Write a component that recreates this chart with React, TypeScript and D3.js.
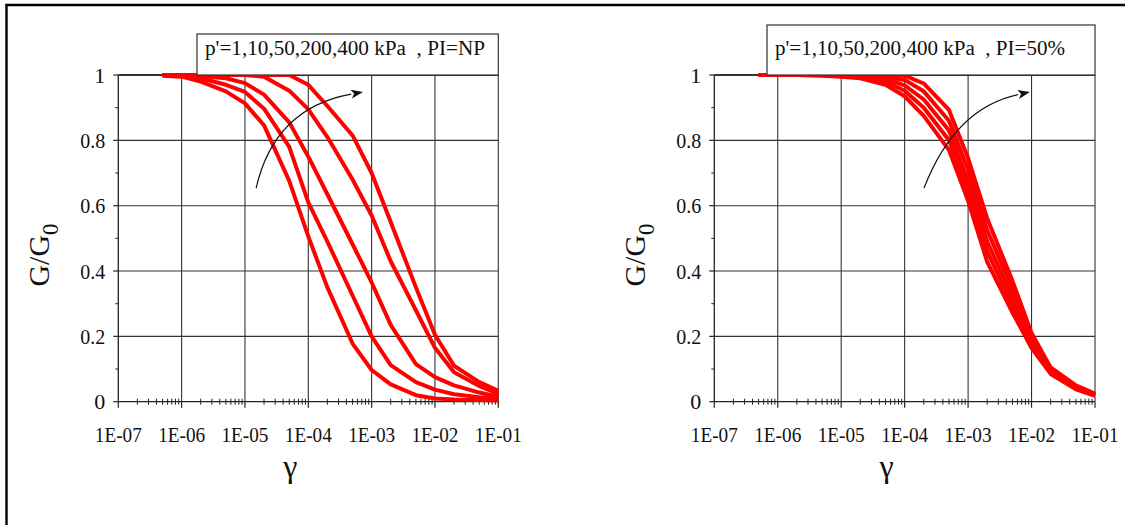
import React from 'react';
import * as d3 from 'd3';

// shear strain points (read at 1-2-5 steps)
const strain = [5e-7, 1e-6, 2e-6, 5e-6, 1e-5, 2e-5, 5e-5, 1e-4, 2e-4, 5e-4, 1e-3, 2e-3, 5e-3, 1e-2, 2e-2, 5e-2, 1e-1];

// PI = NP, p' = 1, 10, 50, 200, 400 kPa
const np1 = [0.998, 0.995, 0.98, 0.95, 0.913, 0.846, 0.676, 0.506, 0.35, 0.178, 0.097, 0.053, 0.02, 0.01, 0.007, 0.005, 0.004];
const np10 = [1, 0.998, 0.99, 0.97, 0.948, 0.897, 0.78, 0.61, 0.49, 0.325, 0.2, 0.112, 0.06, 0.037, 0.023, 0.014, 0.01];
const np50 = [1, 1, 0.997, 0.99, 0.975, 0.94, 0.855, 0.75, 0.635, 0.482, 0.365, 0.235, 0.115, 0.075, 0.05, 0.028, 0.015];
const np200 = [1, 1, 1, 1, 1, 0.995, 0.952, 0.895, 0.81, 0.68, 0.57, 0.43, 0.28, 0.165, 0.09, 0.048, 0.025];
const np400 = [1, 1, 1, 1, 1, 1, 1, 0.97, 0.905, 0.815, 0.7, 0.55, 0.35, 0.205, 0.11, 0.06, 0.033];

// PI = 50%
const pi1 = [1, 1, 1, 0.998, 0.995, 0.99, 0.97, 0.935, 0.875, 0.77, 0.615, 0.428, 0.273, 0.164, 0.085, 0.038, 0.018];
const pi10 = [1, 1, 1, 0.999, 0.997, 0.993, 0.98, 0.952, 0.9, 0.8, 0.645, 0.46, 0.295, 0.175, 0.09, 0.041, 0.02];
const pi50 = [1, 1, 1, 1, 0.998, 0.995, 0.988, 0.968, 0.925, 0.83, 0.675, 0.49, 0.32, 0.185, 0.095, 0.044, 0.021];
const pi200 = [1, 1, 1, 1, 0.999, 0.998, 0.994, 0.985, 0.95, 0.86, 0.71, 0.525, 0.345, 0.197, 0.1, 0.047, 0.023];
const pi400 = [1, 1, 1, 1, 1, 1, 0.998, 0.998, 0.974, 0.893, 0.745, 0.561, 0.37, 0.21, 0.105, 0.05, 0.025];

const xTickLabels = ['1E-07', '1E-06', '1E-05', '1E-04', '1E-03', '1E-02', '1E-01'];
const yTicks = [0, 0.2, 0.4, 0.6, 0.8, 1];
const yTickLabels = ['0', '0.2', '0.4', '0.6', '0.8', '1'];

// arrow annotation (strain, G/G0): start, control, end
const arrowNP = [[1.5e-5, 0.654], [2.93e-5, 0.899], [7.3e-4, 0.948]];
const arrowPI = [[2.02e-4, 0.654], [6.2e-4, 0.899], [9.4e-3, 0.948]];

const FONT = "'Liberation Serif', 'Times New Roman', serif";

const Panel = ({ x0, x1, series, legend, legendBox, legendWidth, arrow }) => {
  const x = d3.scaleLog().domain([1e-7, 1e-1]).range([x0, x1]);
  const y = d3.scaleLinear().domain([0, 1]).range([401.7, 75]);
  const line = d3.line<number>()
    .x((_, i) => x(strain[i]))
    .y(d => y(d));

  const decades = d3.range(-7, 0).map(p => Math.pow(10, p));
  const minors = [];
  decades.slice(0, 6).forEach(d => {
    for (let k = 2; k <= 9; k++) minors.push(k * d);
  });
  const yMinor = [0.1, 0.3, 0.5, 0.7, 0.9];

  const [a0, ac, a1] = arrow.map(([s, g]) => [x(s), y(g)]);
  const ang = Math.atan2(a1[1] - ac[1], a1[0] - ac[0]);
  const head = 12;
  const tip = a1;
  const back = [tip[0] - head * Math.cos(ang), tip[1] - head * Math.sin(ang)];
  const perp = [-Math.sin(ang) * 4.5, Math.cos(ang) * 4.5];

  const cx = (x0 + x1) / 2;
  const txt = { fontFamily: FONT };

  return (
    <g>
      {/* grid */}
      {decades.slice(1).map(d => (
        <line key={'v' + d} x1={x(d)} x2={x(d)} y1={y(0)} y2={y(1)} stroke="#333" strokeWidth={1.1} />
      ))}
      {yTicks.slice(1).map(t => (
        <line key={'h' + t} x1={x0} x2={x1} y1={y(t)} y2={y(t)} stroke="#333" strokeWidth={t === 1 ? 1.8 : 1.1} />
      ))}
      {/* axes */}
      <line x1={x0} x2={x1} y1={y(0)} y2={y(0)} stroke="#222" strokeWidth={1.3} />
      <line x1={x0} x2={x0} y1={y(0)} y2={y(1)} stroke="#222" strokeWidth={1.3} />
      {decades.map(d => (
        <line key={'xt' + d} x1={x(d)} x2={x(d)} y1={y(0)} y2={y(0) + 6} stroke="#222" strokeWidth={1.2} />
      ))}
      {minors.map(m => (
        <line key={'xm' + m} x1={x(m)} x2={x(m)} y1={y(0) - 3} y2={y(0) + 3} stroke="#222" strokeWidth={1} />
      ))}
      {yTicks.map(t => (
        <line key={'yt' + t} x1={x0 - 5} x2={x0} y1={y(t)} y2={y(t)} stroke="#222" strokeWidth={1.2} />
      ))}
      {yMinor.map(t => (
        <line key={'ym' + t} x1={x0 - 3} x2={x0} y1={y(t)} y2={y(t)} stroke="#222" strokeWidth={1} />
      ))}
      {/* tick labels */}
      {decades.map((d, i) => (
        <text key={'xl' + d} x={x(d)} y={442} textAnchor="middle" fontSize={22} style={txt}
          textLength={47} lengthAdjust="spacingAndGlyphs" fill="#111">{xTickLabels[i]}</text>
      ))}
      {yTicks.map((t, i) => (
        <text key={'yl' + t} x={x0 - 13} y={y(t) + 7.5} textAnchor="end" fontSize={22} style={txt} fill="#111"
          textLength={yTickLabels[i].length > 1 ? 25 : undefined}
          lengthAdjust={yTickLabels[i].length > 1 ? 'spacingAndGlyphs' : undefined}>
          {yTickLabels[i]}
        </text>
      ))}
      {/* curves */}
      {series.map((s, i) => (
        <path key={'c' + i} d={line(s)} fill="none" stroke="#ff0000" strokeWidth={4} strokeLinejoin="round" />
      ))}
      {/* legend box */}
      <rect x={legendBox[0]} y={legendBox[1]} width={x1 - legendBox[0]} height={75 - legendBox[1]}
        fill="#fff" stroke="#333" strokeWidth={1.2} />
      <text x={legendBox[0] + 8} y={55} fontSize={20} fill="#111"
        textLength={legendWidth} lengthAdjust="spacingAndGlyphs" style={{ ...txt, whiteSpace: 'pre' }}>{legend}</text>
      {/* arrow */}
      <path d={`M${a0[0]},${a0[1]} Q${ac[0]},${ac[1]} ${back[0]},${back[1]}`} fill="none" stroke="#111" strokeWidth={1.2} />
      <path d={`M${tip[0]},${tip[1]} L${back[0] + perp[0]},${back[1] + perp[1]} L${back[0] + 3 * Math.cos(ang)},${back[1] + 3 * Math.sin(ang)} L${back[0] - perp[0]},${back[1] - perp[1]} Z`} fill="#111" />
      {/* axis titles */}
      <text transform={`translate(${x0 - 69},${255}) rotate(-90)`} fontSize={30} style={txt} fill="#111" textAnchor="middle">
        G/G<tspan dy={9} fontSize={23}>0</tspan>
      </text>
      <text x={cx - 18} y={477} fontSize={32} style={txt} fill="#111" textAnchor="middle">γ</text>
    </g>
  );
};

export default function App() {
  return (
    <svg width={1125} height={525} style={{ position: 'absolute', left: 0, top: 0, background: '#fff' }}>
      <rect x={0} y={0} width={1125} height={525} fill="#fff" />
      <line x1={6.5} x2={6.5} y1={4} y2={525} stroke="#000" strokeWidth={2.4} />
      <line x1={5.5} x2={1125} y1={5} y2={5} stroke="#000" strokeWidth={2.4} />
      <Panel x0={118.3} x1={498.3} series={[np1, np10, np50, np200, np400]}
        legend={"p'=1,10,50,200,400 kPa  , PI=NP"} legendBox={[197, 34]} legendWidth={280} arrow={arrowNP} />
      <Panel x0={714.3} x1={1095} series={[pi1, pi10, pi50, pi200, pi400]}
        legend={"p'=1,10,50,200,400 kPa  , PI=50%"} legendBox={[767, 25]} legendWidth={290} arrow={arrowPI} />
    </svg>
  );
}
